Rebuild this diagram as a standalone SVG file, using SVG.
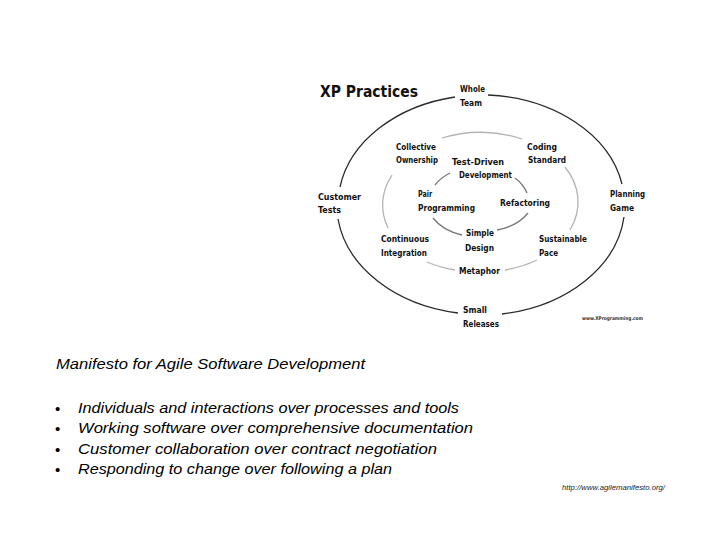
<svg xmlns="http://www.w3.org/2000/svg" width="720" height="540" viewBox="0 0 720 540">
<style>
.lbl{font-family:"DejaVu Sans Condensed","DejaVu Sans",sans-serif;font-weight:bold;font-size:9px;fill:#111}
.title{font-family:"DejaVu Sans Condensed","DejaVu Sans",sans-serif;font-weight:bold;font-size:15px;fill:#111}
.outer{fill:none;stroke:#2a2a2a;stroke-width:1.3}
.mid{fill:none;stroke:#b4b4b4;stroke-width:1.3}
.inner{fill:none;stroke:#777;stroke-width:1.3}
.man{font-family:"Liberation Sans",Arial,sans-serif;font-style:italic;font-size:15px;fill:#000}
.bul{font-family:"Liberation Sans",Arial,sans-serif;font-size:15px;fill:#000}
</style>
<rect width="720" height="540" fill="#fff"/>
<text class="title" x="320" y="97" textLength="98" lengthAdjust="spacingAndGlyphs">XP Practices</text>
<g id="connectors">
<path class="outer" d="M488,95 A145,110 0 0 1 622,184"/>
<path class="outer" d="M624,217 A145,110 0 0 1 502,314"/>
<path class="outer" d="M458,313 A145,110 0 0 1 338,219"/>
<path class="outer" d="M340,187 A145,110 0 0 1 455,97"/>
<path class="mid" d="M442,138 A97,70 0 0 1 522,139"/>
<path class="mid" d="M565,167 A97,70 0 0 1 570,230"/>
<path class="mid" d="M537,260 A97,70 0 0 1 505,270"/>
<path class="mid" d="M455,270 A97,70 0 0 1 427,262"/>
<path class="mid" d="M388,228 A97,70 0 0 1 392,175"/>
<path class="inner" d="M435,185 A50,37 0 0 1 450,173"/>
<path class="inner" d="M515,178 A50,37 0 0 1 527,193"/>
<path class="inner" d="M528,213 A50,37 0 0 1 497,230"/>
<path class="inner" d="M462,235 A50,37 0 0 1 433,218"/>
</g>
<g id="whole-team"><text class="lbl" x="460" y="92" textLength="25" lengthAdjust="spacingAndGlyphs">Whole</text><text class="lbl" x="460" y="106" textLength="22" lengthAdjust="spacingAndGlyphs">Team</text></g>
<g id="collective-ownership"><text class="lbl" x="396" y="149.5" textLength="40" lengthAdjust="spacingAndGlyphs">Collective</text><text class="lbl" x="396" y="163" textLength="42" lengthAdjust="spacingAndGlyphs">Ownership</text></g>
<g id="coding-standard"><text class="lbl" x="527" y="149.5" textLength="30" lengthAdjust="spacingAndGlyphs">Coding</text><text class="lbl" x="528" y="163" textLength="38" lengthAdjust="spacingAndGlyphs">Standard</text></g>
<g id="test-driven"><text class="lbl" x="452" y="164.5" textLength="52" lengthAdjust="spacingAndGlyphs">Test-Driven</text><text class="lbl" x="459" y="178" textLength="53" lengthAdjust="spacingAndGlyphs">Development</text></g>
<g id="customer-tests"><text class="lbl" x="318" y="199.5" textLength="43" lengthAdjust="spacingAndGlyphs">Customer</text><text class="lbl" x="318" y="212.5" textLength="23" lengthAdjust="spacingAndGlyphs">Tests</text></g>
<g id="pair-programming"><text class="lbl" x="418" y="197" textLength="14" lengthAdjust="spacingAndGlyphs">Pair</text><text class="lbl" x="418" y="211" textLength="57" lengthAdjust="spacingAndGlyphs">Programming</text></g>
<g id="refactoring"><text class="lbl" x="500" y="205.5" textLength="50" lengthAdjust="spacingAndGlyphs">Refactoring</text></g>
<g id="planning-game"><text class="lbl" x="610" y="196.5" textLength="35" lengthAdjust="spacingAndGlyphs">Planning</text><text class="lbl" x="610" y="210.5" textLength="24" lengthAdjust="spacingAndGlyphs">Game</text></g>
<g id="continuous-integration"><text class="lbl" x="381" y="241.5" textLength="48" lengthAdjust="spacingAndGlyphs">Continuous</text><text class="lbl" x="381" y="255.5" textLength="46" lengthAdjust="spacingAndGlyphs">Integration</text></g>
<g id="simple-design"><text class="lbl" x="466" y="236" textLength="28" lengthAdjust="spacingAndGlyphs">Simple</text><text class="lbl" x="465" y="251" textLength="29" lengthAdjust="spacingAndGlyphs">Design</text></g>
<g id="sustainable-pace"><text class="lbl" x="539" y="241.5" textLength="48" lengthAdjust="spacingAndGlyphs">Sustainable</text><text class="lbl" x="539" y="256" textLength="19" lengthAdjust="spacingAndGlyphs">Pace</text></g>
<g id="metaphor"><text class="lbl" x="459" y="273.5" textLength="41" lengthAdjust="spacingAndGlyphs">Metaphor</text></g>
<g id="small-releases"><text class="lbl" x="463" y="312.5" textLength="24" lengthAdjust="spacingAndGlyphs">Small</text><text class="lbl" x="463" y="326.5" textLength="36" lengthAdjust="spacingAndGlyphs">Releases</text></g>
<text x="582" y="320" font-family="DejaVu Sans, sans-serif" font-weight="bold" font-size="5" fill="#333" textLength="61" lengthAdjust="spacingAndGlyphs">www.XProgramming.com</text>
<text class="man" x="56" y="369" textLength="309" lengthAdjust="spacingAndGlyphs">Manifesto for Agile Software Development</text>
<g class="bul">
<text x="55" y="414">•</text><text x="55" y="434">•</text><text x="55" y="455">•</text><text x="55" y="475">•</text>
</g>
<text class="man" x="78" y="413" textLength="381" lengthAdjust="spacingAndGlyphs">Individuals and interactions over processes and tools</text>
<text class="man" x="78" y="433" textLength="395" lengthAdjust="spacingAndGlyphs">Working software over comprehensive documentation</text>
<text class="man" x="78" y="454" textLength="359" lengthAdjust="spacingAndGlyphs">Customer collaboration over contract negotiation</text>
<text class="man" x="78" y="474" textLength="314" lengthAdjust="spacingAndGlyphs">Responding to change over following a plan</text>
<text x="562" y="490" font-family="Liberation Sans, Arial, sans-serif" font-style="italic" font-size="7.5" fill="#222" textLength="103" lengthAdjust="spacingAndGlyphs">http://www.agilemanifesto.org/</text>
</svg>
